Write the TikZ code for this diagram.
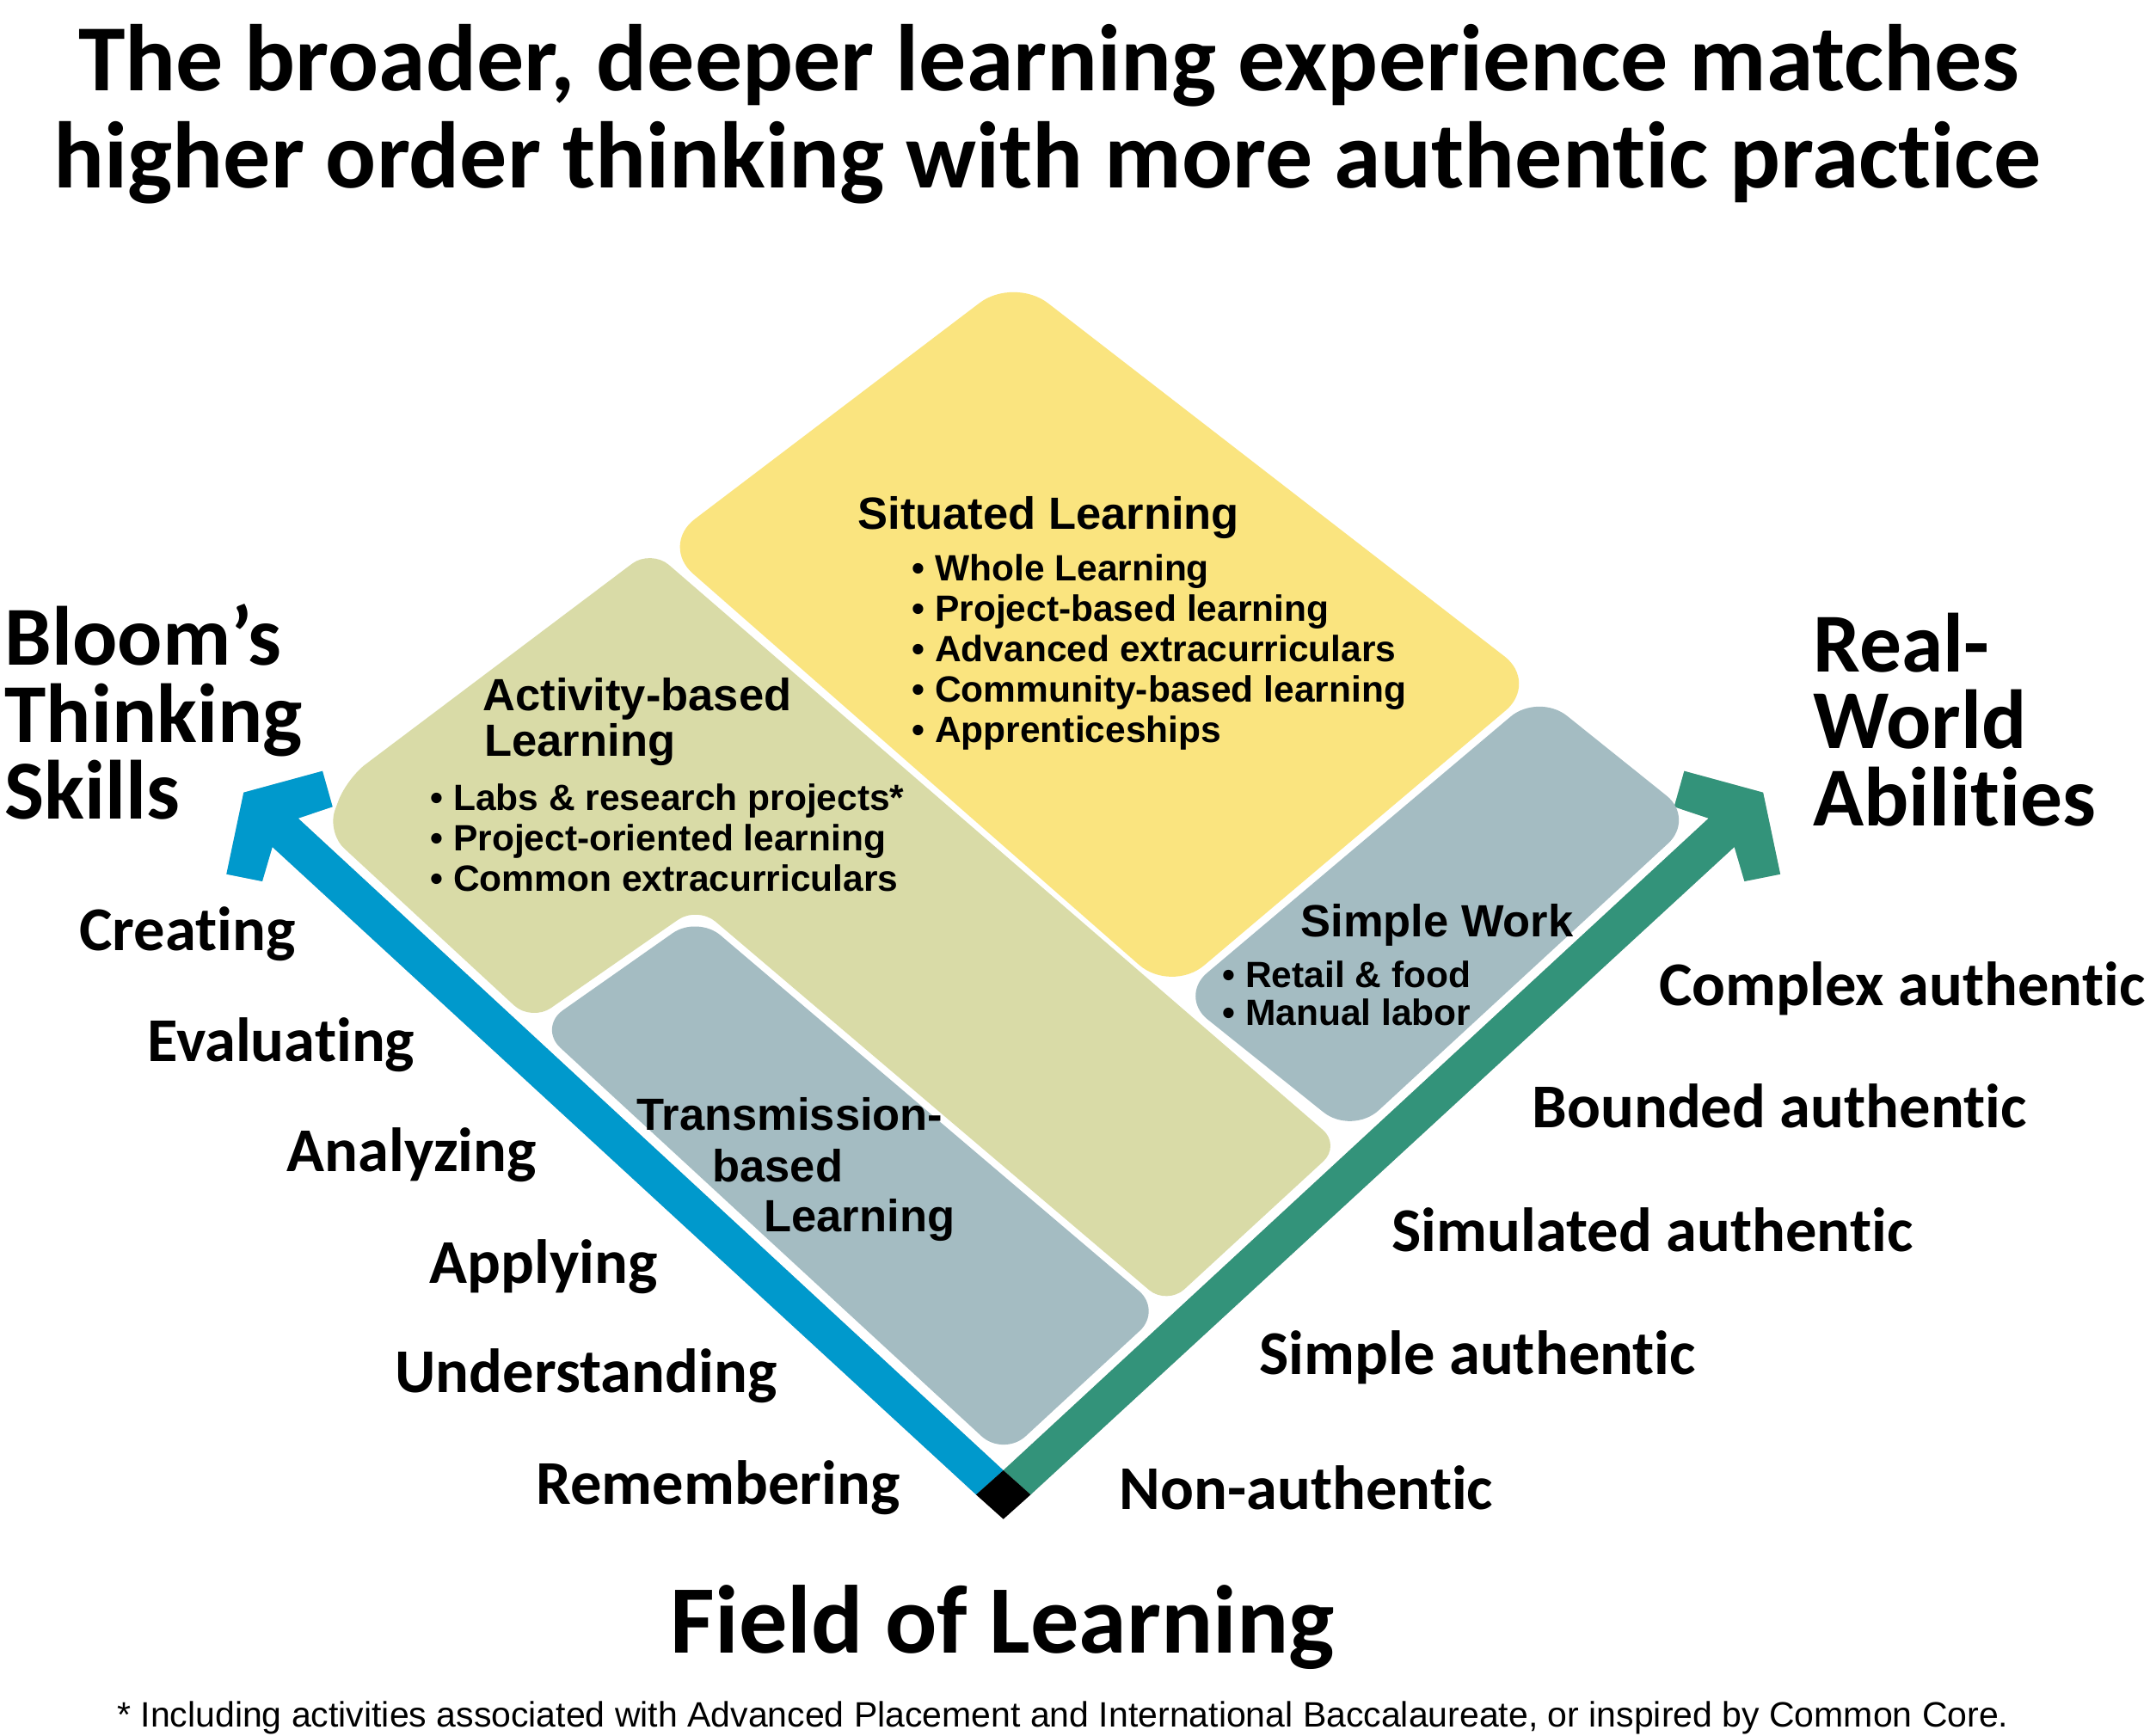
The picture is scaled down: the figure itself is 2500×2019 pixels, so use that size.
\documentclass[tikz,border=0pt]{standalone}
\usepackage{fontspec}
\newfontfamily\calfont{Carlito}[Ligatures={NoCommon},RawFeature={-liga;-clig;-dlig}]
\newfontfamily\arialfont{Liberation Sans}
\usetikzlibrary{calc}
\definecolor{sityellow}{HTML}{FAE47F}
\definecolor{actolive}{HTML}{D9DBA7}
\definecolor{grayblue}{HTML}{A4BCC2}
\definecolor{bloomblue}{HTML}{0099CC}
\definecolor{realgreen}{HTML}{33937A}
\tikzset{
  titletext/.style={font=\calfont\bfseries\fontsize{44}{44}\selectfont, anchor=base, inner sep=0},
  axislabel/.style={font=\calfont\bfseries\fontsize{39}{39}\selectfont, anchor=base west, inner sep=0},
  levellabel/.style={font=\calfont\bfseries\fontsize{29}{29}\selectfont, anchor=base west, inner sep=0},
  fieldlabel/.style={font=\calfont\bfseries\fontsize{45}{45}\selectfont, anchor=base, inner sep=0},
  boxtitle/.style={font=\arialfont\bfseries\fontsize{21}{21}\selectfont, anchor=base west, inner sep=0},
  bulletitem/.style={font=\arialfont\bfseries\fontsize{17}{17}\selectfont, anchor=base west, inner sep=0},
  footnotetext/.style={font=\arialfont\fontsize{16.4}{16.4}\selectfont, anchor=base, inner sep=0},
  softshadow/.style={fill=black, fill opacity=0.07},
}
\begin{document}
\begin{tikzpicture}[x=0.4pt,y=-0.4pt]
\useasboundingbox (0,0) rectangle (2500,2019);
\fill[white] (0,0) rectangle (2500,2019);

% ---- axis arrow geometry ----
\coordinate (O) at (1166.7,1710);
\coordinate (BsT) at (346.7,951.7);
\coordinate (BwI1) at (386.7,938.3);
\coordinate (BwO1) at (375,896.7);
\coordinate (Btip) at (283.3,921.7);
\coordinate (BwO2) at (263.3,1016.7);
\coordinate (BwI2) at (305,1025);
\coordinate (BsB) at (316.7,985);
\coordinate (BL) at (1135,1738.3);
\coordinate (BB) at (1166.7,1766.7);
\coordinate (GsT) at (1986.7,951.7);
\coordinate (GwI1) at (1946.7,938.3);
\coordinate (GwO1) at (1958.4,896.7);
\coordinate (Gtip) at (2050.1,921.7);
\coordinate (GwO2) at (2070.1,1016.7);
\coordinate (GwI2) at (2028.4,1025);
\coordinate (GsB) at (2016.7,985);
\coordinate (GR) at (1198.4,1738.3);

% soft shadows
\foreach \dx/\dy in {4/6, 7/10, 10/14} {
  \fill[softshadow, shift={(\dx,\dy)}] (O) -- (BsT) -- (BwI1) -- (BwO1) -- (Btip) -- (BwO2) -- (BwI2) -- (BsB) -- (BL) -- (BB) -- (GR) -- (GsB) -- (GwI2) -- (GwO2) -- (Gtip) -- (GwO1) -- (GwI1) -- (GsT) -- cycle;
}

\fill[bloomblue] (O) -- (BsT) -- (BwI1) -- (BwO1) -- (Btip) -- (BwO2) -- (BwI2) -- (BsB) -- (BL) -- cycle;
\fill[realgreen] (O) -- (GsT) -- (GwI1) -- (GwO1) -- (Gtip) -- (GwO2) -- (GwI2) -- (GsB) -- (GR) -- cycle;
\fill[black] (O) -- (BL) -- (BB) -- (GR) -- cycle;

% ---- regions ----
\fill[sityellow, rounded corners=20pt] (1179,322) -- (1789,794) -- (1362,1155) -- (768,634) -- cycle;
\fill[actolive, rounded corners=11pt] (757,639) -- (1559,1332) -- (1357,1518) -- (811,1054) -- (618,1188) -- (380,968) -- (403,905.5) -- cycle;
\fill[grayblue, rounded corners=14pt] (811,1065) -- (1351,1524) -- (1167,1694) -- (626,1195) -- cycle;
\fill[grayblue, rounded corners=17pt] (1789,806) -- (1971,952) -- (1572,1320) -- (1371,1159) -- cycle;

% ---- titles ----
\node[titletext] (title1) at (1220,106) {The broader, deeper learning experience matches};
\node[titletext] (title2) at (1218,218) {higher order thinking with more authentic practice};

% ---- axis labels ----
\node[axislabel] (bloom1) at (5,773) {Bloom’s};
\node[axislabel] (bloom2) at (5,863) {Thinking};
\node[axislabel] (bloom3) at (5,952) {Skills};
\node[axislabel] (real1) at (2108,781) {Real-};
\node[axislabel] (real2) at (2108,870) {World};
\node[axislabel] (real3) at (2108,960) {Abilities};

% ---- Bloom levels ----
\node[levellabel] (lvcre) at (92,1105) {Creating};
\node[levellabel] (lveva) at (171,1234) {Evaluating};
\node[levellabel] (lvana) at (333,1362) {Analyzing};
\node[levellabel] (lvapp) at (499,1492) {Applying};
\node[levellabel] (lvund) at (459,1619) {Understanding};
\node[levellabel] (lvrem) at (623,1749) {Remembering};

% ---- authenticity levels ----
\node[levellabel] (aucom) at (1929,1169) {Complex authentic};
\node[levellabel] (aubou) at (1781,1311) {Bounded authentic};
\node[levellabel] (ausim) at (1618,1455) {Simulated authentic};
\node[levellabel] (ausma) at (1464,1598) {Simple authentic};
\node[levellabel] (aunon) at (1301,1755) {Non-authentic};

% ---- bottom ----
\node[fieldlabel] (field) at (1166,1922) {Field of Learning};
\node[footnotetext] (foot) at (1236,2008) {* Including activities associated with Advanced Placement and International Baccalaureate, or inspired by Common Core.};

% ---- region texts ----
\node[boxtitle] (sitT) at (997,615) {Situated Learning};
\node[bulletitem] (sit1) at (1060,675) {• Whole Learning};
\node[bulletitem] (sit2) at (1060,722) {• Project-based learning};
\node[bulletitem] (sit3) at (1060,769) {• Advanced extracurriculars};
\node[bulletitem] (sit4) at (1060,816) {• Community-based learning};
\node[bulletitem] (sit5) at (1060,863) {• Apprenticeships};

\node[boxtitle] (actT1) at (561,826) {Activity-based};
\node[boxtitle] (actT2) at (563,879) {Learning};
\node[bulletitem] (act1) at (500,942) {• Labs \& research projects*};
\node[bulletitem] (act2) at (500,989) {• Project-oriented learning};
\node[bulletitem] (act3) at (500,1036) {• Common extracurriculars};

\node[boxtitle] (trT1) at (740,1314) {Transmission-};
\node[boxtitle] (trT2) at (828,1374) {based};
\node[boxtitle] (trT3) at (888,1432) {Learning};

\node[boxtitle] (swT) at (1512,1089) {Simple Work};
\node[bulletitem] (sw1) at (1421,1148) {• Retail \& food};
\node[bulletitem] (sw2) at (1421,1192) {• Manual labor};
\end{tikzpicture}
\end{document}
